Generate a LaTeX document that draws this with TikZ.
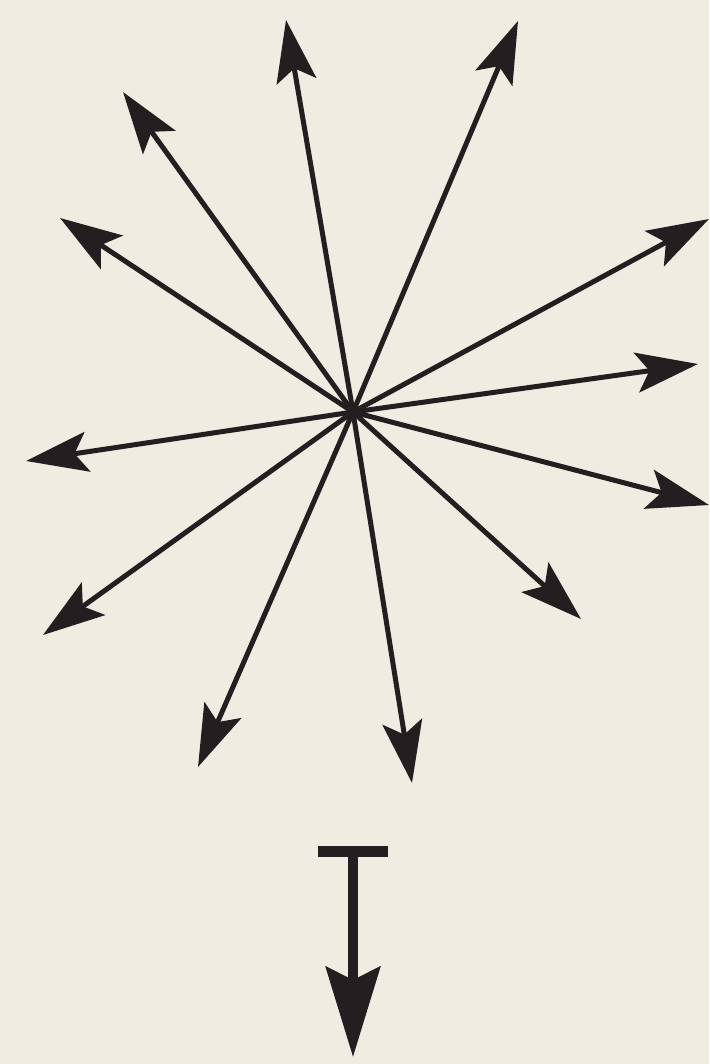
\documentclass[tikz,border=0pt]{standalone}
\usetikzlibrary{arrows.meta}
\definecolor{bg}{HTML}{F0ECE1}
\definecolor{ink}{HTML}{231F20}
\begin{document}
\begin{tikzpicture}[x=1pt,y=-1pt,
  spoke/.style={draw=ink,line width=5pt,-{Stealth[length=62pt,width=40pt,inset=13pt]}},
  bigarrow/.style={draw=ink,line width=10pt,-{Stealth[length=90pt,width=54pt,inset=13pt]}}]
\fill[bg] (0,0) rectangle (709,1064);
\useasboundingbox (0,0) rectangle (709,1064);
\coordinate (c) at (353,412);
\coordinate (t1) at (286,20);
\coordinate (t2) at (518,21);
\coordinate (t3) at (123,92);
\coordinate (t4) at (60,218);
\coordinate (t5) at (709,219);
\coordinate (t6) at (698,364);
\coordinate (t7) at (26,461);
\coordinate (t8) at (709,505);
\coordinate (t9) at (581,619);
\coordinate (t10) at (43,635);
\coordinate (t11) at (198,767);
\coordinate (t12) at (412,783);
\foreach \i in {1,...,12} {\draw[spoke] (c) -- (t\i);}
\node[fill=ink,minimum width=70pt,minimum height=11pt,inner sep=0pt] (bar) at (353,851.5) {};
\coordinate (tip) at (353,1057);
\draw[bigarrow] (bar.center) -- (tip);
\end{tikzpicture}
\end{document}
